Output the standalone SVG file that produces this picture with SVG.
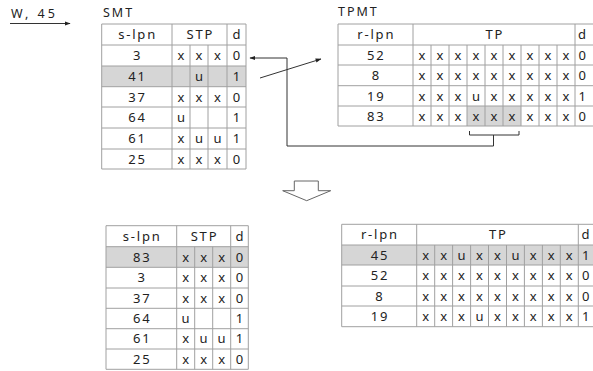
<svg xmlns="http://www.w3.org/2000/svg" width="593" height="371" viewBox="0 0 593 371">
<defs>
<marker id="ah" viewBox="0 0 10 10" refX="9" refY="5" markerWidth="6" markerHeight="6" orient="auto" markerUnits="userSpaceOnUse"><path d="M0,1.5 L10,5 L0,8.5 z" fill="#222"/></marker>
<style>
text{font-family:"Noto Sans","DejaVu Sans",sans-serif;fill:#222;}
.c{font-size:13px;letter-spacing:1.8px;text-anchor:middle;}
.s{font-size:12.5px;letter-spacing:2px;}
.g{fill:#d6d6d6;}
.grid line{stroke:#a0a0a0;stroke-width:1;}
.ln{stroke:#333;stroke-width:1;fill:none;}
</style>
</defs>
<rect width="593" height="371" fill="#fff"/>

<text class="s" x="11" y="18" style="letter-spacing:3px">W, 45</text>
<text class="s" x="103" y="17">SMT</text>
<text class="s" x="338" y="16">TPMT</text>

<!-- Top SMT -->
<g id="smt-top">
<rect class="g" x="101.7" y="66" width="144.3" height="20.7"/>
<g class="grid">
<line x1="101.7" y1="24" x2="246" y2="24"/><line x1="101.7" y1="45" x2="246" y2="45"/><line x1="101.7" y1="66" x2="246" y2="66"/><line x1="101.7" y1="86.7" x2="246" y2="86.7"/><line x1="101.7" y1="107" x2="246" y2="107"/><line x1="101.7" y1="128" x2="246" y2="128"/><line x1="101.7" y1="149" x2="246" y2="149"/><line x1="101.7" y1="169" x2="246" y2="169"/>
<line x1="101.7" y1="24" x2="101.7" y2="169"/><line x1="172" y1="24" x2="172" y2="169"/><line x1="190" y1="45" x2="190" y2="169"/><line x1="208" y1="45" x2="208" y2="169"/><line x1="227" y1="24" x2="227" y2="169"/><line x1="246" y1="24" x2="246" y2="169"/>
</g>
<g class="c">
<text x="137.6" y="39">s-lpn</text><text x="200.3" y="39">STP</text><text x="237.3" y="39">d</text>
<text x="137.6" y="60">3</text><text x="181.8" y="60">x</text><text x="199.8" y="60">x</text><text x="218.3" y="60">x</text><text x="237.3" y="60">0</text>
<text x="137.6" y="81">41</text><text x="199.8" y="81">u</text><text x="237.3" y="81">1</text>
<text x="137.6" y="101.5">37</text><text x="181.8" y="101.5">x</text><text x="199.8" y="101.5">x</text><text x="218.3" y="101.5">x</text><text x="237.3" y="101.5">0</text>
<text x="137.6" y="122">64</text><text x="181.8" y="122">u</text><text x="237.3" y="122">1</text>
<text x="137.6" y="143">61</text><text x="181.8" y="143">x</text><text x="199.8" y="143">u</text><text x="218.3" y="143">u</text><text x="237.3" y="143">1</text>
<text x="137.6" y="163.5">25</text><text x="181.8" y="163.5">x</text><text x="199.8" y="163.5">x</text><text x="218.3" y="163.5">x</text><text x="237.3" y="163.5">0</text>
</g>
</g>

<!-- Top TPMT -->
<g id="tpmt-top">
<rect class="g" x="467" y="106" width="54" height="20"/>
<g class="grid">
<line x1="338" y1="24" x2="600" y2="24"/><line x1="338" y1="45" x2="600" y2="45"/><line x1="338" y1="65" x2="600" y2="65"/><line x1="338" y1="85.7" x2="600" y2="85.7"/><line x1="338" y1="106" x2="600" y2="106"/><line x1="338" y1="126" x2="600" y2="126"/>
<line x1="338" y1="24" x2="338" y2="126"/><line x1="413" y1="24" x2="413" y2="126"/>
<line x1="431" y1="45" x2="431" y2="126"/><line x1="449" y1="45" x2="449" y2="126"/><line x1="467" y1="45" x2="467" y2="126"/><line x1="485" y1="45" x2="485" y2="126"/><line x1="503" y1="45" x2="503" y2="126"/><line x1="521" y1="45" x2="521" y2="126"/><line x1="539" y1="45" x2="539" y2="126"/><line x1="557" y1="45" x2="557" y2="126"/>
<line x1="575" y1="24" x2="575" y2="126"/>
</g>
<g class="c">
<text x="376.3" y="39">r-lpn</text><text x="494.8" y="39">TP</text><text x="583" y="39">d</text>
<text x="376.3" y="59.5">52</text><text x="422.8" y="59.5">x</text><text x="440.8" y="59.5">x</text><text x="458.8" y="59.5">x</text><text x="476.8" y="59.5">x</text><text x="494.8" y="59.5">x</text><text x="512.8" y="59.5">x</text><text x="530.8" y="59.5">x</text><text x="548.8" y="59.5">x</text><text x="566.8" y="59.5">x</text><text x="583" y="59.5">0</text>
<text x="376.3" y="80">8</text><text x="422.8" y="80">x</text><text x="440.8" y="80">x</text><text x="458.8" y="80">x</text><text x="476.8" y="80">x</text><text x="494.8" y="80">x</text><text x="512.8" y="80">x</text><text x="530.8" y="80">x</text><text x="548.8" y="80">x</text><text x="566.8" y="80">x</text><text x="583" y="80">0</text>
<text x="376.3" y="100.5">19</text><text x="422.8" y="100.5">x</text><text x="440.8" y="100.5">x</text><text x="458.8" y="100.5">x</text><text x="476.8" y="100.5">u</text><text x="494.8" y="100.5">x</text><text x="512.8" y="100.5">x</text><text x="530.8" y="100.5">x</text><text x="548.8" y="100.5">x</text><text x="566.8" y="100.5">x</text><text x="583" y="100.5">1</text>
<text x="376.3" y="120.5">83</text><text x="422.8" y="120.5">x</text><text x="440.8" y="120.5">x</text><text x="458.8" y="120.5">x</text><text x="476.8" y="120.5">x</text><text x="494.8" y="120.5">x</text><text x="512.8" y="120.5">x</text><text x="530.8" y="120.5">x</text><text x="548.8" y="120.5">x</text><text x="566.8" y="120.5">x</text><text x="583" y="120.5">0</text>
</g>
</g>

<!-- Bottom SMT -->
<g id="smt-bottom">
<rect class="g" x="106" y="246.7" width="142.3" height="20.6"/>
<g class="grid">
<line x1="106" y1="225.7" x2="248.3" y2="225.7"/><line x1="106" y1="246.7" x2="248.3" y2="246.7"/><line x1="106" y1="267.3" x2="248.3" y2="267.3"/><line x1="106" y1="288" x2="248.3" y2="288"/><line x1="106" y1="308.3" x2="248.3" y2="308.3"/><line x1="106" y1="328.7" x2="248.3" y2="328.7"/><line x1="106" y1="349" x2="248.3" y2="349"/><line x1="106" y1="369.3" x2="248.3" y2="369.3"/>
<line x1="106" y1="225.7" x2="106" y2="369.3"/><line x1="176.7" y1="225.7" x2="176.7" y2="369.3"/><line x1="194.7" y1="246.7" x2="194.7" y2="369.3"/><line x1="212.7" y1="246.7" x2="212.7" y2="369.3"/><line x1="230.7" y1="225.7" x2="230.7" y2="369.3"/><line x1="248.3" y1="225.7" x2="248.3" y2="369.3"/>
</g>
<g class="c">
<text x="142.2" y="240.5">s-lpn</text><text x="204.5" y="240.5">STP</text><text x="240.3" y="240.5">d</text>
<text x="142.2" y="261.5">83</text><text x="186.5" y="261.5">x</text><text x="204.5" y="261.5">x</text><text x="222.5" y="261.5">x</text><text x="240.3" y="261.5">0</text>
<text x="142.2" y="282">3</text><text x="186.5" y="282">x</text><text x="204.5" y="282">x</text><text x="222.5" y="282">x</text><text x="240.3" y="282">0</text>
<text x="142.2" y="302.5">37</text><text x="186.5" y="302.5">x</text><text x="204.5" y="302.5">x</text><text x="222.5" y="302.5">x</text><text x="240.3" y="302.5">0</text>
<text x="142.2" y="323">64</text><text x="186.5" y="323">u</text><text x="240.3" y="323">1</text>
<text x="142.2" y="343.3">61</text><text x="186.5" y="343.3">x</text><text x="204.5" y="343.3">u</text><text x="222.5" y="343.3">u</text><text x="240.3" y="343.3">1</text>
<text x="142.2" y="363.7">25</text><text x="186.5" y="363.7">x</text><text x="204.5" y="363.7">x</text><text x="222.5" y="363.7">x</text><text x="240.3" y="363.7">0</text>
</g>
</g>

<!-- Bottom TPMT -->
<g id="tpmt-bottom">
<rect class="g" x="341.7" y="245" width="260" height="20"/>
<g class="grid">
<line x1="341.7" y1="224.3" x2="600" y2="224.3"/><line x1="341.7" y1="245" x2="600" y2="245"/><line x1="341.7" y1="265" x2="600" y2="265"/><line x1="341.7" y1="286" x2="600" y2="286"/><line x1="341.7" y1="306" x2="600" y2="306"/><line x1="341.7" y1="326.7" x2="600" y2="326.7"/>
<line x1="341.7" y1="224.3" x2="341.7" y2="326.7"/><line x1="416.7" y1="224.3" x2="416.7" y2="326.7"/>
<line x1="434.7" y1="245" x2="434.7" y2="326.7"/><line x1="452.6" y1="245" x2="452.6" y2="326.7"/><line x1="470.6" y1="245" x2="470.6" y2="326.7"/><line x1="488.5" y1="245" x2="488.5" y2="326.7"/><line x1="506.5" y1="245" x2="506.5" y2="326.7"/><line x1="524.4" y1="245" x2="524.4" y2="326.7"/><line x1="542.4" y1="245" x2="542.4" y2="326.7"/><line x1="560.3" y1="245" x2="560.3" y2="326.7"/>
<line x1="578.3" y1="224.3" x2="578.3" y2="326.7"/>
</g>
<g class="c">
<text x="379.9" y="239">r-lpn</text><text x="498.3" y="239">TP</text><text x="586.5" y="239">d</text>
<text x="379.9" y="259.5">45</text><text x="426.5" y="259.5">x</text><text x="444.5" y="259.5">x</text><text x="462.4" y="259.5">u</text><text x="480.4" y="259.5">x</text><text x="498.3" y="259.5">x</text><text x="516.3" y="259.5">u</text><text x="534.2" y="259.5">x</text><text x="552.2" y="259.5">x</text><text x="570.1" y="259.5">x</text><text x="586.5" y="259.5">1</text>
<text x="379.9" y="280">52</text><text x="426.5" y="280">x</text><text x="444.5" y="280">x</text><text x="462.4" y="280">x</text><text x="480.4" y="280">x</text><text x="498.3" y="280">x</text><text x="516.3" y="280">x</text><text x="534.2" y="280">x</text><text x="552.2" y="280">x</text><text x="570.1" y="280">x</text><text x="586.5" y="280">0</text>
<text x="379.9" y="300.5">8</text><text x="426.5" y="300.5">x</text><text x="444.5" y="300.5">x</text><text x="462.4" y="300.5">x</text><text x="480.4" y="300.5">x</text><text x="498.3" y="300.5">x</text><text x="516.3" y="300.5">x</text><text x="534.2" y="300.5">x</text><text x="552.2" y="300.5">x</text><text x="570.1" y="300.5">x</text><text x="586.5" y="300.5">0</text>
<text x="379.9" y="321">19</text><text x="426.5" y="321">x</text><text x="444.5" y="321">x</text><text x="462.4" y="321">x</text><text x="480.4" y="321">u</text><text x="498.3" y="321">x</text><text x="516.3" y="321">x</text><text x="534.2" y="321">x</text><text x="552.2" y="321">x</text><text x="570.1" y="321">x</text><text x="586.5" y="321">1</text>
</g>
</g>

<!-- Connectors -->
<g id="connectors">
<line class="ln" x1="10" y1="23.5" x2="70" y2="23.5" marker-end="url(#ah)"/>
<path class="ln" d="M469.5,131 V135 H519 V131"/>
<path class="ln" d="M493.5,135 V146 H287 V58 H250" marker-end="url(#ah)"/>
<line class="ln" x1="260" y1="78" x2="321" y2="59" marker-end="url(#ah)"/>
<polygon points="294.3,181 318.3,181 318.3,190.7 330.7,190.7 306.7,200.7 282.7,190.7 294.3,190.7" fill="#fff" stroke="#666" stroke-width="1"/>
</g>
</svg>
